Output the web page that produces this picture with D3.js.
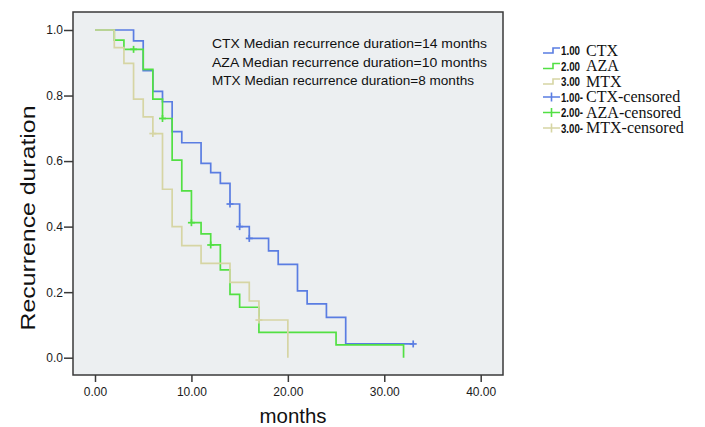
<!DOCTYPE html>
<html>
<head>
<meta charset="utf-8">
<script src="https://cdn.jsdelivr.net/npm/d3@7"></script>
<style>
  html, body { margin: 0; padding: 0; background: #fff; }
  svg { display: block; }
</style>
</head>
<body>
<div id="chart"></div>
<script>
// Kaplan-Meier style curves
const ctxTimes = [0, 4, 5, 6, 7, 8, 9, 11, 12, 13, 14, 15, 16, 18, 19, 21, 22, 24, 26, 33];
const ctxSurv = [1, 0.967, 0.876, 0.813, 0.781, 0.690, 0.656, 0.593, 0.565, 0.532, 0.469, 0.400, 0.364, 0.326, 0.285, 0.204, 0.164, 0.123, 0.042, 0.042];
const ctxCensorTimes = [14, 15, 16, 33];
const ctxCensorSurv = [0.469, 0.400, 0.364, 0.042];

const azaTimes = [0, 2, 3, 5, 6, 7, 8, 9, 10, 11, 12, 13, 14, 15, 17, 25, 32];
const azaSurv = [1, 0.969, 0.941, 0.880, 0.789, 0.730, 0.603, 0.509, 0.412, 0.378, 0.344, 0.268, 0.193, 0.154, 0.077, 0.039, 0];
const azaCensorTimes = [4, 7, 10, 12];
const azaCensorSurv = [0.941, 0.730, 0.412, 0.344];

const mtxTimes = [0, 2, 3, 4, 5, 6, 7, 8, 9, 11, 14, 16, 17, 20];
const mtxSurv = [1, 0.946, 0.898, 0.789, 0.735, 0.684, 0.514, 0.400, 0.342, 0.288, 0.230, 0.173, 0.115, 0];
const mtxCensorTimes = [6, 17];
const mtxCensorSurv = [0.684, 0.115];

const xTicks = [0, 10, 20, 30, 40];
const yTicks = [0, 0.2, 0.4, 0.6, 0.8, 1.0];

const groupNames = ['CTX', 'AZA', 'MTX'];
const groupCodes = ['1.00', '2.00', '3.00'];
const groupColors = ['#5a7de2', '#52e043', '#d6d5a4'];

const notes = [
  'CTX Median recurrence duration=14 months',
  'AZA Median recurrence duration=10 months',
  'MTX Median recurrence duration=8 months'
];

const width = 705, height = 427;
const frame = {left: 73, top: 12, right: 503, bottom: 375};

const svg = d3.select('#chart').append('svg')
  .attr('width', width)
  .attr('height', height)
  .attr('font-family', '"Liberation Sans", Arial, sans-serif');

const x = d3.scaleLinear().domain([0, 40]).range([95, 480.7]);
const y = d3.scaleLinear().domain([0, 1]).range([357.7, 30]);

// plot background
svg.append('rect')
  .attr('x', frame.left).attr('y', frame.top)
  .attr('width', frame.right - frame.left).attr('height', frame.bottom - frame.top)
  .attr('fill', '#eceff1');

// annotation
svg.append('g')
  .selectAll('text')
  .data(notes)
  .join('text')
  .attr('x', 212)
  .attr('y', (d, i) => 48 + i * 18.5)
  .attr('font-size', 13)
  .attr('fill', '#111')
  .attr('textLength', (d, i) => [275, 275, 262][i])
  .attr('lengthAdjust', 'spacingAndGlyphs')
  .text(d => d);

const groups = [
  {times: ctxTimes, surv: ctxSurv, ct: ctxCensorTimes, cs: ctxCensorSurv},
  {times: azaTimes, surv: azaSurv, ct: azaCensorTimes, cs: azaCensorSurv},
  {times: mtxTimes, surv: mtxSurv, ct: mtxCensorTimes, cs: mtxCensorSurv}
];

const line = d3.line()
  .x(d => x(d[0]))
  .y(d => y(d[1]))
  .curve(d3.curveStepAfter);

// draw CTX, AZA then MTX on top
groups.forEach((g, gi) => {
  const pts = g.times.map((t, i) => [t, g.surv[i]]);
  svg.append('path')
    .datum(pts)
    .attr('fill', 'none')
    .attr('stroke', groupColors[gi])
    .attr('stroke-width', 1.7)
    .attr('d', line);

  const cens = g.ct.map((t, i) => [t, g.cs[i]]);
  const marks = svg.append('g')
    .attr('stroke', groupColors[gi])
    .attr('stroke-width', 1.7);
  marks.selectAll('line.h')
    .data(cens)
    .join('line')
    .attr('class', 'h')
    .attr('x1', d => x(d[0]) - 3.5).attr('x2', d => x(d[0]) + 3.5)
    .attr('y1', d => y(d[1])).attr('y2', d => y(d[1]));
  marks.selectAll('line.v')
    .data(cens)
    .join('line')
    .attr('class', 'v')
    .attr('x1', d => x(d[0])).attr('x2', d => x(d[0]))
    .attr('y1', d => y(d[1]) - 3.5).attr('y2', d => y(d[1]) + 3.5);
});

// frame
svg.append('rect')
  .attr('x', frame.left).attr('y', frame.top)
  .attr('width', frame.right - frame.left).attr('height', frame.bottom - frame.top)
  .attr('fill', 'none')
  .attr('stroke', '#3a3a3a')
  .attr('stroke-width', 1.5);

// axes
const xAxis = svg.append('g')
  .attr('transform', `translate(0,${frame.bottom})`)
  .call(d3.axisBottom(x).tickValues(xTicks).tickFormat(d3.format('.2f')).tickSize(7).tickPadding(5));
const yAxis = svg.append('g')
  .attr('transform', `translate(${frame.left},0)`)
  .call(d3.axisLeft(y).tickValues(yTicks).tickFormat(d3.format('.1f')).tickSize(9).tickPadding(1));

[xAxis, yAxis].forEach(a => {
  a.select('.domain').remove();
  a.selectAll('.tick line').attr('stroke', '#3a3a3a').attr('stroke-width', 1.5);
  a.selectAll('.tick text')
    .attr('fill', '#1a1a1a')
    .attr('font-size', 12)
    .attr('font-family', '"Liberation Sans", Arial, sans-serif');
});

// axis titles
svg.append('text')
  .attr('x', 293).attr('y', 423)
  .attr('text-anchor', 'middle')
  .attr('font-size', 20)
  .attr('fill', '#111')
  .attr('textLength', 67)
  .attr('lengthAdjust', 'spacingAndGlyphs')
  .text('months');

svg.append('text')
  .attr('transform', 'translate(35,218) rotate(-90)')
  .attr('text-anchor', 'middle')
  .attr('font-size', 20)
  .attr('fill', '#111')
  .attr('textLength', 225)
  .attr('lengthAdjust', 'spacingAndGlyphs')
  .text('Recurrence duration');

// legend
const legendRows = [];
groupNames.forEach((n, i) => legendRows.push({code: groupCodes[i], name: n, color: groupColors[i], censored: false}));
groupNames.forEach((n, i) => legendRows.push({code: groupCodes[i] + '-', name: n + '-censored', color: groupColors[i], censored: true}));

const legend = svg.append('g')
  .selectAll('g')
  .data(legendRows)
  .join('g')
  .attr('transform', (d, i) => `translate(0,${50.5 + i * 15.5})`);

legend.filter(d => !d.censored).append('path')
  .attr('fill', 'none')
  .attr('stroke', d => d.color)
  .attr('stroke-width', 1.6)
  .attr('d', 'M543,2.5H553V-2.5H560');

legend.filter(d => d.censored).append('path')
  .attr('fill', 'none')
  .attr('stroke', d => d.color)
  .attr('stroke-width', 1.6)
  .attr('d', 'M543,0H560M551.5,-4.5V4.5');

legend.append('text')
  .attr('x', 561)
  .attr('y', 4.5)
  .attr('font-size', 12)
  .attr('font-weight', 'bold')
  .attr('fill', '#111')
  .attr('textLength', d => d.censored ? 22 : 19)
  .attr('lengthAdjust', 'spacingAndGlyphs')
  .text(d => d.code);

legend.append('text')
  .attr('x', 586)
  .attr('y', 5)
  .attr('font-size', 16)
  .attr('font-family', '"Liberation Serif", "Times New Roman", serif')
  .attr('fill', '#111')
  .text(d => d.name);
</script>
</body>
</html>
